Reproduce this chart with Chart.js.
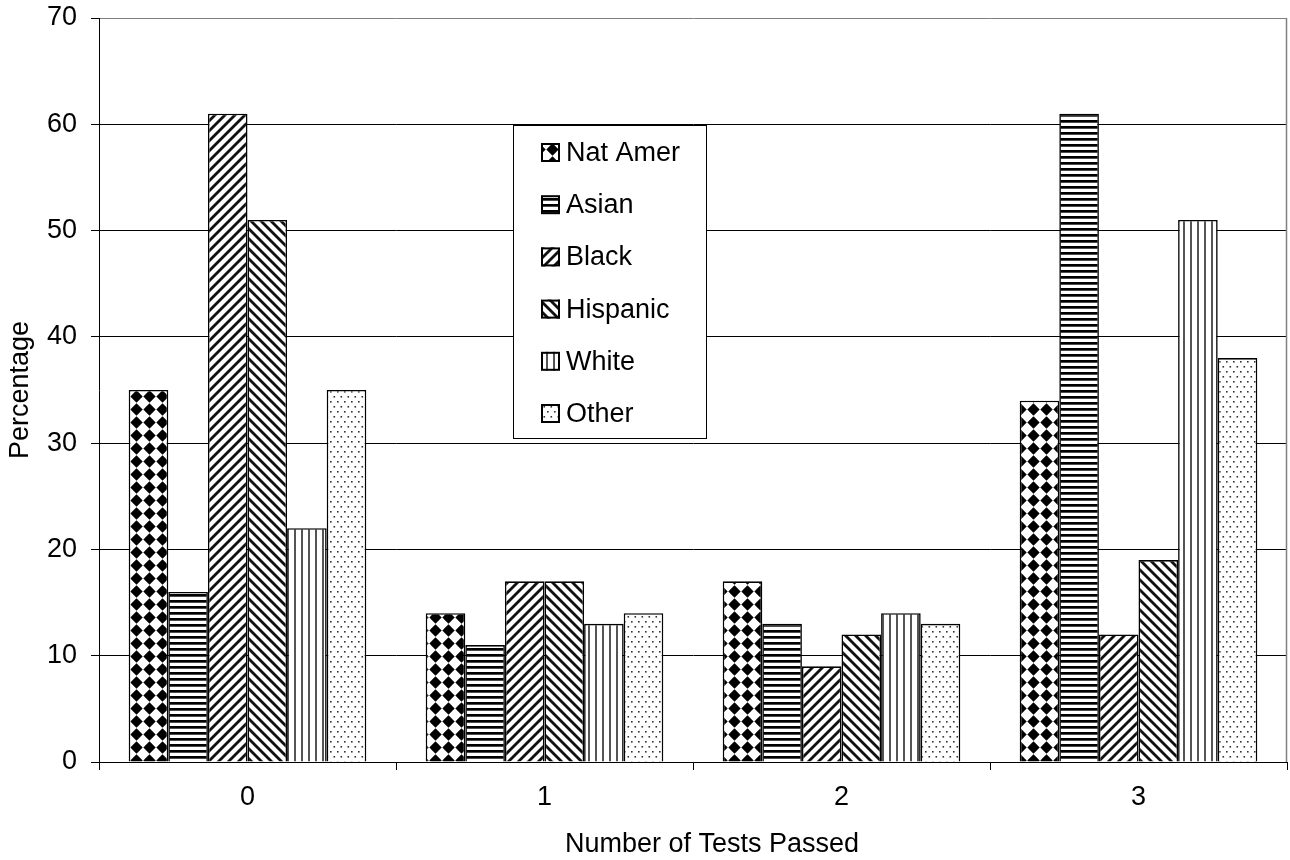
<!DOCTYPE html>
<html>
<head>
<meta charset="utf-8">
<script src="https://cdn.jsdelivr.net/npm/chart.js@4/dist/chart.umd.min.js"></script>
<style>
  html, body { margin: 0; padding: 0; background: #fff; }
  canvas { display: block; }
</style>
</head>
<body>
<canvas id="chart" width="1290" height="860"></canvas>
<script>
// Share of students in each group by number of tests passed
const categories = ['0', '1', '2', '3'];
const groupNames = ['Nat Amer', 'Asian', 'Black', 'Hispanic', 'White', 'Other'];
const natAmer  = [35, 14, 17, 34];
const asian    = [16, 11, 13, 61];
const black    = [61, 17,  9, 12];
const hispanic = [51, 17, 12, 19];
const white    = [22, 13, 14, 51];
const other    = [35, 14, 13, 38];
const yTicks   = [0, 10, 20, 30, 40, 50, 60, 70];
const xTitle   = 'Number of Tests Passed';
const yTitle   = 'Percentage';

const FONT = '"Liberation Sans", Arial, sans-serif';
const FONT_SIZE = 27;

// ---- monochrome fill patterns ----
function makePattern(w, h, draw) {
  const c = document.createElement('canvas');
  c.width = w; c.height = h;
  const g = c.getContext('2d');
  g.fillStyle = '#fff';
  g.fillRect(0, 0, w, h);
  draw(g, w, h);
  return document.getElementById('chart').getContext('2d').createPattern(c, 'repeat');
}

// black diamonds on white
const diamondFill = makePattern(13, 13, (g, w, h) => {
  g.fillStyle = '#000';
  const cx = w / 2, cy = h / 2, r = 6.2;
  g.beginPath();
  g.moveTo(cx, cy - r); g.lineTo(cx + r, cy); g.lineTo(cx, cy + r); g.lineTo(cx - r, cy);
  g.closePath(); g.fill();
});

// horizontal stripes
const hStripeFill = makePattern(8, 6, (g, w) => {
  g.fillStyle = '#000';
  g.fillRect(0, 0, w, 2.7);
});

// diagonal stripes, rising (/) or falling (\)
function diagFill(rising) {
  return makePattern(10, 10, (g, w, h) => {
    g.strokeStyle = '#111';
    g.lineWidth = 2.8;
    const seg = (x1, y1, x2, y2) => { g.beginPath(); g.moveTo(x1, y1); g.lineTo(x2, y2); g.stroke(); };
    if (rising) {
      seg(-2, h + 2, w + 2, -2);
      seg(-2, 2, 2, -2);
      seg(w - 2, h + 2, w + 2, h - 2);
    } else {
      seg(-2, -2, w + 2, h + 2);
      seg(-2, h - 2, 2, h + 2);
      seg(w - 2, -2, w + 2, 2);
    }
  });
}

// thin vertical stripes
const vStripeFill = makePattern(7, 4, (g, w, h) => {
  g.fillStyle = '#555';
  g.fillRect(0, 0, 2, h);
});

// sparse dots
const dotFill = makePattern(7, 10, (g) => {
  g.fillStyle = '#333';
  g.fillRect(1, 1, 1.6, 1.6);
  g.fillRect(4.5, 6, 1.6, 1.6);
});

const fills = [diamondFill, hStripeFill, diagFill(true), diagFill(false), vStripeFill, dotFill];
const seriesValues = [natAmer, asian, black, hispanic, white, other];

const datasets = groupNames.map((name, i) => ({
  label: name,
  data: seriesValues[i],
  backgroundColor: fills[i],
  borderColor: '#000',
  borderWidth: 1.6,
  categoryPercentage: 0.8,
  barPercentage: 1.0
}));

// grey frame on the right of the plot area
const plotFrame = {
  id: 'plotFrame',
  beforeDatasetsDraw(chart) {
    const { ctx, chartArea: a } = chart;
    ctx.save();
    ctx.strokeStyle = '#808080';
    ctx.lineWidth = 1.5;
    ctx.beginPath();
    ctx.moveTo(Math.round(a.right) - 0.5, a.top);
    ctx.lineTo(Math.round(a.right) - 0.5, a.bottom);
    ctx.stroke();
    ctx.restore();
  }
};

// category axis title, set slightly right of the axis centre
const xAxisTitle = {
  id: 'xAxisTitle',
  afterDraw(chart) {
    const { ctx } = chart;
    ctx.save();
    ctx.font = FONT_SIZE + 'px ' + FONT;
    ctx.fillStyle = '#000';
    ctx.textAlign = 'center';
    ctx.textBaseline = 'middle';
    ctx.fillText(xTitle, 712, 845);
    ctx.restore();
  }
};

// boxed legend placed inside the plot area
const boxLegend = {
  id: 'boxLegend',
  afterDatasetsDraw(chart) {
    const { ctx } = chart;
    const box = { x: 513.5, y: 125.5, w: 193, h: 313 };
    ctx.save();
    ctx.fillStyle = '#fff';
    ctx.fillRect(box.x, box.y, box.w, box.h);
    ctx.strokeStyle = '#000';
    ctx.lineWidth = 1;
    ctx.strokeRect(box.x, box.y, box.w, box.h);
    ctx.font = FONT_SIZE + 'px ' + FONT;
    ctx.textBaseline = 'middle';
    ctx.textAlign = 'left';
    chart.data.datasets.forEach((ds, i) => {
      const cy = 152.5 + i * 52.2;
      const sx = 541, size = 19;
      ctx.fillStyle = ds.backgroundColor;
      ctx.fillRect(sx, cy - size / 2, size, size);
      ctx.strokeStyle = '#000';
      ctx.lineWidth = 2;
      ctx.strokeRect(sx + 1, cy - size / 2 + 1, size - 2, size - 2);
      ctx.fillStyle = '#000';
      ctx.fillText(ds.label, 566, cy + 1);
    });
    ctx.restore();
  }
};

Chart.defaults.font.family = FONT;
Chart.defaults.color = '#000';

new Chart(document.getElementById('chart'), {
  type: 'bar',
  data: { labels: categories, datasets },
  options: {
    responsive: false,
    animation: false,
    devicePixelRatio: 1,
    layout: { padding: { top: 18, right: 3, left: 0, bottom: 0 }, autoPadding: false },
    plugins: {
      legend: { display: false },
      tooltip: { enabled: false }
    },
    scales: {
      x: {
        type: 'category',
        offset: true,
        grid: {
          offset: true,
          drawOnChartArea: false,
          drawTicks: true,
          tickLength: 8,
          color: '#000',
          lineWidth: 1
        },
        border: { color: '#000', width: 1 },
        ticks: { font: { size: FONT_SIZE }, color: '#000', padding: 11 },
        title: { display: false, text: xTitle },
        afterFit: (s) => { s.height = 98; s.paddingLeft = 0; s.paddingRight = 0; }
      },
      y: {
        min: yTicks[0],
        max: yTicks[yTicks.length - 1],
        afterBuildTicks: (s) => { s.ticks = yTicks.map(v => ({ value: v })); },
        grid: {
          color: (c) => (c.tick && c.tick.value === yTicks[yTicks.length - 1]) ? '#808080' : '#000',
          tickColor: '#000',
          tickLength: 8,
          lineWidth: 1
        },
        border: { color: '#000', width: 1 },
        ticks: { font: { size: FONT_SIZE }, color: '#000', padding: 14 },
        title: {
          display: true,
          text: yTitle,
          font: { size: FONT_SIZE },
          color: '#000',
          padding: { top: 4, bottom: 0 }
        },
        afterFit: (s) => { s.width = 99; s.paddingTop = 0; s.paddingBottom = 0; }
      }
    }
  },
  plugins: [plotFrame, boxLegend, xAxisTitle]
});
</script>
</body>
</html>
